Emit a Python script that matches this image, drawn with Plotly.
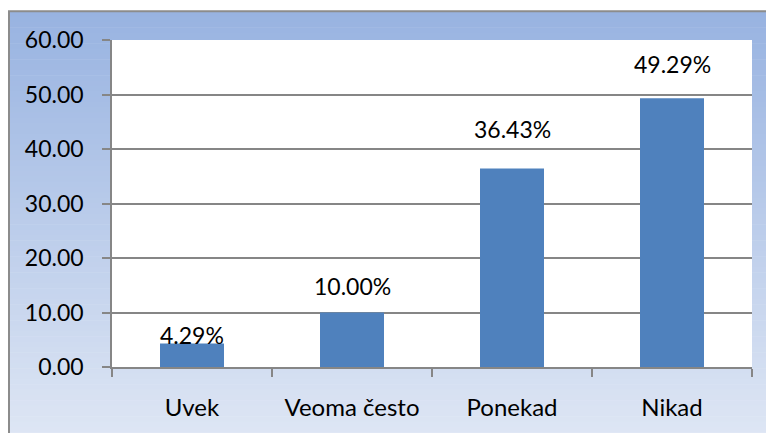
import plotly.graph_objects as go

categories = ["Uvek", "Veoma često", "Ponekad", "Nikad"]
values = [4.29, 10.00, 36.43, 49.29]
labels = ["4.29%", "10.00%", "36.43%", "49.29%"]
y_ticks = [0, 10, 20, 30, 40, 50, 60]
y_ticklabels = ["0.00", "10.00", "20.00", "30.00", "40.00", "50.00", "60.00"]
# manual label lift above each bar (px), as in the original chart
label_lift = [9, 27, 39, 34]

# page body has an 8px margin; figure is sized to fit the 774x433 window
W, H = 766, 425
L, R, T, B = 104, 22, 32, 64
pw, ph = W - L - R, H - T - B

def px_x(px):
    return (px - L) / pw

def px_y(py):
    return (H - B - py) / ph

FONT = "Lato"
FS = 23

fig = go.Figure()
fig.add_trace(go.Bar(
    x=categories, y=values,
    marker=dict(color="#4F81BD", line=dict(width=0)),
    width=0.4, hoverinfo="x+y",
))

for c, v, t, s in zip(categories, values, labels, label_lift):
    fig.add_annotation(x=c, y=v, text=t, showarrow=False, yanchor="middle",
                       yshift=s, font=dict(family=FONT, size=FS, color="#000000"))

# gradient background bands (styling only)
top_c = (152, 179, 225)
bot_c = (222, 230, 244)
y0, y1 = 3, 432
n = 80
shapes = []
for i in range(n):
    a = y0 + (y1 - y0) * i / n
    b = y0 + (y1 - y0) * (i + 1) / n
    t = i / (n - 1)
    c = tuple(round(top_c[k] + (bot_c[k] - top_c[k]) * t) for k in range(3))
    shapes.append(dict(type="rect", xref="paper", yref="paper",
                       x0=px_x(1), x1=px_x(790), y0=px_y(b + 0.5), y1=px_y(a),
                       fillcolor="rgb(%d,%d,%d)" % c, line=dict(width=0), layer="below"))
# plot area white
shapes.append(dict(type="rect", xref="paper", yref="paper", x0=0, x1=1, y0=0, y1=1,
                   fillcolor="white", line=dict(width=0), layer="below"))
# outer frame
shapes.append(dict(type="rect", xref="paper", yref="paper",
                   x0=px_x(1), x1=px_x(790), y0=px_y(445), y1=px_y(3),
                   fillcolor="rgba(0,0,0,0)", line=dict(color="#8C8C8C", width=2), layer="above"))

fig.update_layout(
    width=W, height=H,
    margin=dict(l=L, r=R, t=T, b=B),
    paper_bgcolor="white", plot_bgcolor="rgba(0,0,0,0)",
    showlegend=False, shapes=shapes,
    font=dict(family=FONT, size=FS, color="#000000"),
    xaxis=dict(showline=True, linecolor="#868686", linewidth=1.5,
               ticks="outside", ticklen=8, tickcolor="#868686", tickwidth=1.5,
               tickson="boundaries", showgrid=False,
               tickfont=dict(family=FONT, size=24, color="#000000"),
               ticklabelstandoff=18),
    yaxis=dict(range=[0, 60], tickvals=y_ticks, ticktext=y_ticklabels,
               showline=True, linecolor="#868686", linewidth=1.5,
               ticks="outside", ticklen=8, tickcolor="#868686", tickwidth=1.5,
               showgrid=True, gridcolor="#868686", gridwidth=1.5,
               zeroline=False,
               tickfont=dict(family=FONT, size=FS, color="#000000"),
               ticklabelstandoff=14),
)

fig.write_html("out.html")
